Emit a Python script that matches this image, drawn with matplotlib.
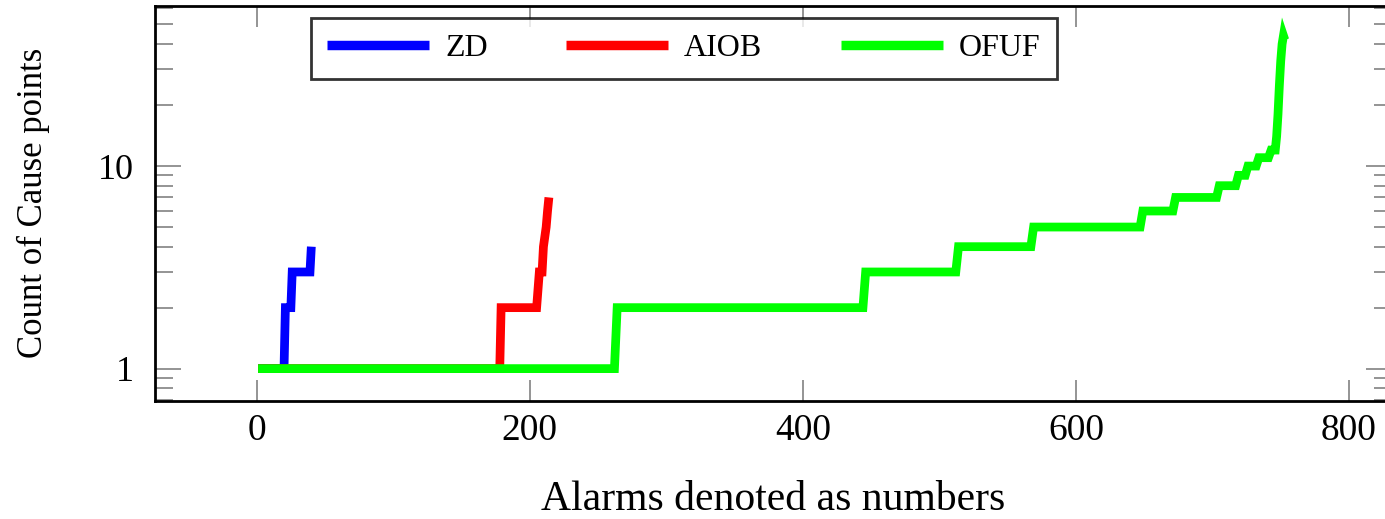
import matplotlib
matplotlib.use("Agg")
import matplotlib.pyplot as plt
from matplotlib.ticker import LogLocator, FixedLocator, NullFormatter

# cause point counts per alarm, one list per fault type
zd_x = [1, 20, 21, 25, 26, 39, 40]
zd_y = [1, 1, 2, 2, 3, 3, 4]

aiob_x = [1, 178, 179, 205, 207, 209, 210, 212, 213, 214]
aiob_y = [1, 1, 2, 2, 3, 3, 4, 5, 6, 7]

ofuf_x = [1, 262, 264, 444, 446, 512, 514, 567, 569, 647, 649, 671, 673,
          703, 705, 717, 719, 724, 726, 732, 734, 741, 743, 746, 747, 748,
          749, 750, 751, 752, 753]
ofuf_y = [1, 1, 2, 2, 3, 3, 4, 4, 5, 5, 6, 6, 7, 7, 8, 8, 9, 9, 10, 10,
          11, 11, 12, 12, 14, 18, 25, 33, 40, 44, 42]

series_names = ["ZD", "AIOB", "OFUF"]
x_ticks = [0, 200, 400, 600, 800]
y_ticks = [1, 10]

plt.rcParams["font.family"] = ["Liberation Serif", "DejaVu Serif"]

W, H = 1385, 519
fig = plt.figure(figsize=(W / 100, H / 100), dpi=100)
# axes box in pixels: left 155, right ~1392 (cropped), top 6, bottom 401
ax = fig.add_axes([155 / W, 1 - 401 / H, (1392 - 155) / W, (401 - 6) / H])

lw = 6.3
ax.plot(zd_x, zd_y, color="#0000ff", lw=lw, solid_joinstyle="miter",
        solid_capstyle="butt", label=series_names[0])
ax.plot(aiob_x, aiob_y, color="#ff0000", lw=lw, solid_joinstyle="miter",
        solid_capstyle="butt", label=series_names[1])
ax.plot(ofuf_x, ofuf_y, color="#00ff00", lw=lw, solid_joinstyle="miter",
        solid_capstyle="butt", label=series_names[2])

ax.set_yscale("log")
ax.set_xlim(-74.5, 831.5)
ax.set_ylim(0.692, 61.7)

ax.xaxis.set_major_locator(FixedLocator(x_ticks))
ax.yaxis.set_major_locator(FixedLocator(y_ticks))
ax.yaxis.set_minor_locator(LogLocator(base=10, subs=range(2, 10)))
ax.yaxis.set_minor_formatter(NullFormatter())
ax.set_yticklabels([str(t) for t in y_ticks])

ax.tick_params(axis="x", which="major", direction="in", top=True, bottom=True,
               length=15, width=1.1, color="#777777", labelsize=27, pad=9)
ax.tick_params(axis="x", which="minor", bottom=False, top=False)
ax.tick_params(axis="y", which="major", direction="in", left=True, right=True,
               length=19, width=1.1, color="#777777", labelsize=26, pad=15)
ax.tick_params(axis="y", which="minor", direction="in", left=True, right=True,
               length=13, width=1.1, color="#777777")

for s in ax.spines.values():
    s.set_linewidth(2.0)
    s.set_color("black")

fig.text(773 / W, 1 - 500 / H, "Alarms denoted as numbers", fontsize=30,
         ha="center", va="center")
fig.text(33 / W, 1 - 203 / H, "Count of Cause points", fontsize=25,
         ha="center", va="center", rotation=90)

leg = ax.legend(ncol=3, loc="upper left", bbox_to_anchor=(311 / W, 1 - 18 / H),
                bbox_transform=fig.transFigure, fontsize=23, frameon=True,
                fancybox=False, handlelength=3.2, handletextpad=0.5,
                columnspacing=2.45, borderpad=0.5, borderaxespad=0)
leg.get_frame().set_edgecolor("black")
leg.get_frame().set_linewidth(2.0)
for line in leg.get_lines():
    line.set_linewidth(6.8)
    line.set_solid_capstyle("butt")

fig.savefig("out.png", dpi=100)
